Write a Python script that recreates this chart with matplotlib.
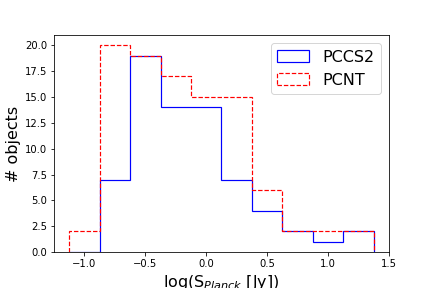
import numpy as np
import matplotlib
matplotlib.use("Agg")
import matplotlib.pyplot as plt

bin_edges = [-1.125, -0.875, -0.625, -0.375, -0.125, 0.125, 0.375, 0.625, 0.875, 1.125, 1.375]
pccs2_counts = [0, 7, 19, 14, 14, 7, 4, 2, 1, 2]
pcnt_counts = [2, 20, 19, 17, 15, 15, 6, 2, 2, 2]

edges = np.array(bin_edges)
centers = (edges[:-1] + edges[1:]) / 2

fig, ax = plt.subplots(figsize=(6, 4), dpi=72)
fig.subplots_adjust(left=0.125, right=0.9, bottom=0.125, top=0.878)
ax.hist(centers, bins=edges, weights=pccs2_counts, histtype='step', color='b', lw=1.2, label='PCCS2')
ax.hist(centers, bins=edges, weights=pcnt_counts, histtype='step', color='r', lw=1.2, linestyle='--', label='PCNT')
ax.set_xlim(-1.25, 1.5)
ax.set_ylim(0, 21)
ax.set_ylabel('# objects', fontsize=16)
ax.set_xlabel(r'log(S$_{Planck}$ [Jy])', fontsize=16)
ax.legend(loc='upper right', fontsize=16)
fig.savefig('out.png', dpi=72)
